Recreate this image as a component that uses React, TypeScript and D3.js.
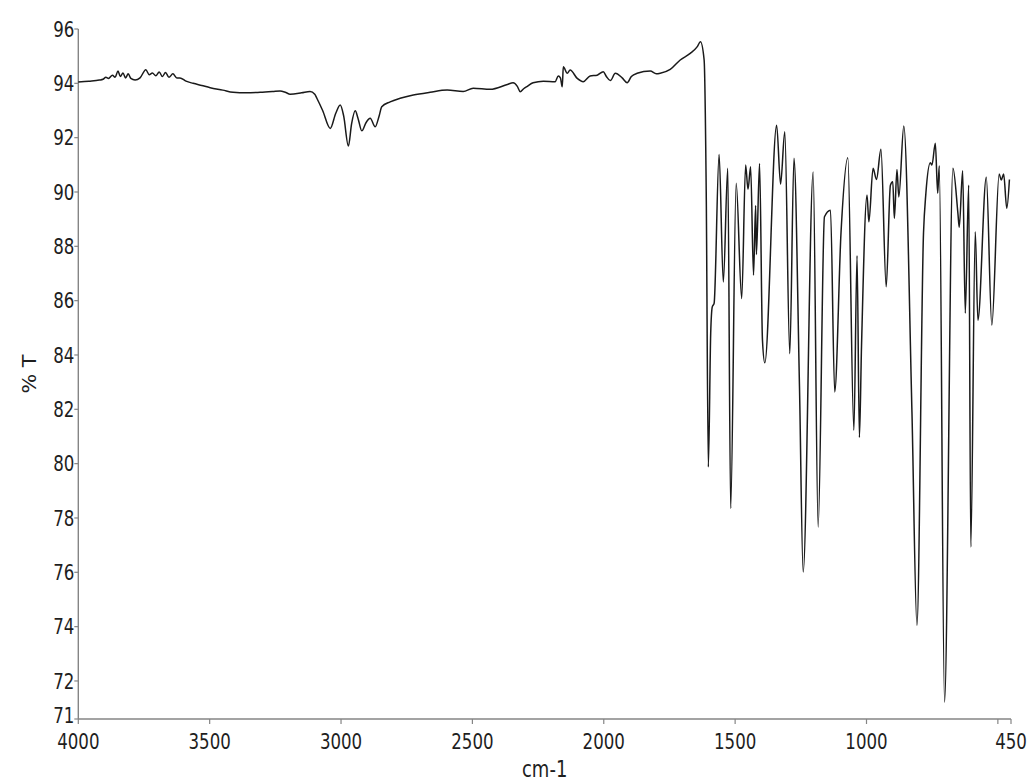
import React from "react";
import * as d3 from "d3";

// FTIR spectrum: wavenumber (cm-1) against transmittance (%T)
const wavenumbers: number[] = [
  4000, 3960, 3920, 3906, 3895, 3885, 3870, 3860, 3849, 3840, 3830, 3820, 3810, 3800,
  3784, 3765, 3743, 3730, 3718, 3705, 3692, 3680, 3668, 3655, 3640, 3625, 3613, 3590,
  3563, 3530, 3498, 3450, 3411, 3360, 3308, 3260, 3232, 3210, 3194, 3150, 3118, 3100,
  3092, 3070, 3041, 3020, 3003, 2990, 2972, 2960, 2946, 2935, 2921, 2905, 2889, 2870,
  2855, 2845, 2813, 2775, 2725, 2661, 2596, 2535, 2497, 2432, 2367, 2345, 2329, 2318,
  2305, 2291, 2269, 2230, 2185, 2173, 2165, 2158, 2154, 2139, 2128, 2101, 2078, 2052,
  2025, 2002, 1990, 1975, 1956, 1930, 1911, 1895, 1873, 1823, 1800, 1785, 1747, 1709,
  1671, 1644, 1632, 1618, 1610, 1602, 1593, 1587, 1580, 1561, 1545, 1528, 1517, 1496,
  1475, 1460, 1451, 1441, 1430, 1422, 1419, 1407, 1396, 1387, 1342, 1327, 1311, 1292,
  1276, 1255, 1241, 1203, 1184, 1160, 1137, 1121, 1097, 1071, 1048, 1036, 1027, 1019,
  998, 991, 975, 962, 945, 925, 909, 900, 894, 884, 877, 858, 827, 808,
  783, 774, 757, 751, 738, 729, 723, 703, 671, 652, 647, 634, 624, 611,
  603, 586, 576, 544, 523, 495, 487, 478, 466, 456,
];

const transmittance: number[] = [
  94.05, 94.08, 94.12, 94.15, 94.22, 94.18, 94.3, 94.22, 94.45, 94.25, 94.38, 94.2, 94.35, 94.18,
  94.12, 94.2, 94.5, 94.32, 94.38, 94.28, 94.42, 94.25, 94.4, 94.22, 94.35, 94.2, 94.2, 94.08,
  94.0, 93.92, 93.84, 93.75, 93.67, 93.65, 93.67, 93.7, 93.72, 93.66, 93.6, 93.65, 93.7, 93.6,
  93.45, 93.0, 92.34, 92.9, 93.2, 92.8, 91.69, 92.5, 92.99, 92.7, 92.25, 92.55, 92.71, 92.4,
  92.8, 93.14, 93.32, 93.45, 93.57, 93.67, 93.75, 93.7, 93.82, 93.78, 93.96, 94.02, 93.89, 93.69,
  93.8, 93.89, 94.02, 94.08, 94.06, 94.27, 94.2, 93.87, 94.61, 94.37, 94.49, 94.18, 94.06, 94.27,
  94.3, 94.43, 94.25, 94.1, 94.37, 94.2, 94.02, 94.25, 94.37, 94.45, 94.35, 94.37, 94.51, 94.86,
  95.1, 95.35, 95.53, 94.86, 90.0, 79.88, 84.8, 85.77, 85.9, 91.38, 86.69, 90.87, 78.35, 90.32,
  86.08, 90.99, 90.1, 90.93, 86.94, 89.5, 87.7, 91.05, 84.55, 83.71, 92.46, 90.29, 92.22, 84.05,
  91.24, 82.8, 76.01, 90.74, 77.67, 89.09, 89.33, 82.64, 88.5, 91.26, 81.23, 87.65, 80.96, 84.3,
  89.89, 88.9, 90.87, 90.46, 91.57, 86.51, 90.25, 90.38, 89.03, 90.83, 89.82, 92.43, 81.9, 74.05,
  88.49, 89.95, 91.08, 90.99, 91.79, 89.95, 90.97, 71.22, 90.87, 89.21, 88.7, 90.78, 85.54, 90.25,
  76.93, 88.54, 85.28, 90.54, 85.1, 90.66, 90.44, 90.66, 89.4, 90.46,
];

// Axis ticks; the lowest y tick sits on the axis minimum and reads "71"
const xTickValues: number[] = [4000, 3500, 3000, 2500, 2000, 1500, 1000, 500, 450];
const xTickLabels: string[] = ["4000", "3500", "3000", "2500", "2000", "1500", "1000", "", "450"];
const yTickValues: number[] = [70.6, 72, 74, 76, 78, 80, 82, 84, 86, 88, 90, 92, 94, 96];
const yTickLabels: string[] = ["71", "72", "74", "76", "78", "80", "82", "84", "86", "88", "90", "92", "94", "96"];

const W = 1029;
const H = 783;
const LEFT = 78.3;
const RIGHT = 1011;
const TOP = 29;
const BOTTOM = 719;

const FONT = "'Liberation Sans Narrow', 'Arial Narrow', 'DejaVu Sans Condensed', sans-serif";
const AXIS_COLOR = "#858585";
const TEXT_COLOR = "#1e1e1e";

export default function App() {
  const x = d3.scaleLinear().domain([4000, 450]).range([LEFT, RIGHT]);
  const y = d3.scaleLinear().domain([70.6, 96]).range([BOTTOM, TOP]);

  const points: [number, number][] = wavenumbers.map((w, i) => [w, transmittance[i]]);
  const line = d3
    .line<[number, number]>()
    .x((d) => x(d[0]))
    .y((d) => y(d[1]))
    .curve(d3.curveMonotoneX);

  const labelStyle = { fontFamily: FONT, fontSize: 18.5, fill: TEXT_COLOR } as const;

  return (
    <svg
      width={W}
      height={H}
      viewBox={`0 0 ${W} ${H}`}
      style={{ position: "absolute", left: 0, top: 0, background: "#fff" }}
    >
      <rect x={0} y={0} width={W} height={H} fill="#fff" />

      {/* axes */}
      <line x1={LEFT} x2={LEFT} y1={TOP} y2={BOTTOM} stroke={AXIS_COLOR} strokeWidth={1.4} />
      <line x1={LEFT} x2={RIGHT} y1={BOTTOM} y2={BOTTOM} stroke={AXIS_COLOR} strokeWidth={1.4} />

      {yTickValues.map((v, i) => (
        <g key={`y${i}`}>
          <line x1={LEFT - 4} x2={LEFT} y1={y(v)} y2={y(v)} stroke={AXIS_COLOR} strokeWidth={1.2} />
          <g transform={`translate(${LEFT - 4}, ${y(v)}) scale(1,1.15)`}>
            <text textAnchor="end" dy={i === 0 ? "0.2em" : "0.36em"} style={labelStyle}>
              {yTickLabels[i]}
            </text>
          </g>
        </g>
      ))}

      {xTickValues.map((v, i) => (
        <g key={`x${i}`}>
          <line x1={x(v)} x2={x(v)} y1={BOTTOM} y2={BOTTOM + 5} stroke={AXIS_COLOR} strokeWidth={1.2} />
          {xTickLabels[i] && (
            <g transform={`translate(${x(v)}, 749) scale(1,1.15)`}>
              <text textAnchor="middle" style={labelStyle}>
                {xTickLabels[i]}
              </text>
            </g>
          )}
        </g>
      ))}

      {/* axis titles */}
      <g transform={`translate(36, ${(TOP + BOTTOM) / 2}) rotate(-90) scale(1.15,1)`}>
        <text textAnchor="middle" style={{ ...labelStyle, fontSize: 20 }}>
          % T
        </text>
      </g>
      <g transform={`translate(${(LEFT + RIGHT) / 2}, 777) scale(1,1.15)`}>
        <text textAnchor="middle" style={{ ...labelStyle, fontSize: 20 }}>
          cm-1
        </text>
      </g>

      {/* spectrum */}
      <path
        d={line(points) ?? ""}
        fill="none"
        stroke="#1a1a1a"
        strokeWidth={1.5}
        strokeLinejoin="round"
      />
    </svg>
  );
}
